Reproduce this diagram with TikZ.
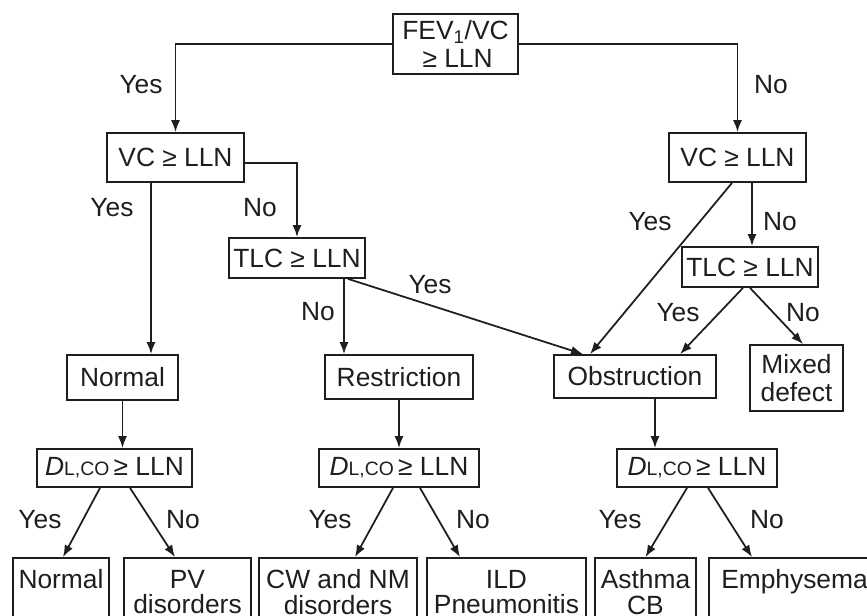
\documentclass[tikz,border=0pt]{standalone}
\usepackage{fontspec}
\setmainfont{Liberation Sans}
\usetikzlibrary{arrows.meta}
\definecolor{ink}{HTML}{1E1E1E}
\newcommand{\dlco}{\textit{D}{\fontsize{11}{11}\selectfont L,CO}}

\begin{document}
\begin{tikzpicture}[
		box/.style={draw=ink, line width=1pt, inner sep=0pt, align=center, text=ink},
		leaf/.style={box, minimum height=1.36cm, font=\fontsize{15}{14.5}\selectfont},
		lbl/.style={text=ink, inner sep=0pt},
		arr/.style={ink, line width=1pt, -{Latex[length=2.4mm,width=1.8mm]}},
		font=\fontsize{15}{15.5}\selectfont]
			\useasboundingbox (0,0) rectangle (17.34,-12.32);

			% first level
			\node[box, minimum width=2.5cm, minimum height=1.2cm] (top) at (9.11,-0.88) {FEV\textsubscript{1}/VC\\$\,$≥ LLN};
			\node[box, minimum width=2.74cm, minimum height=0.98cm] (vcL) at (3.51,-3.15) {VC ≥ LLN};
			\node[box, minimum width=2.74cm, minimum height=0.98cm] (vcR) at (14.75,-3.15) {VC ≥ LLN};
			\node[box, minimum width=2.72cm, minimum height=0.8cm] (tlcL) at (5.94,-5.16) {TLC ≥ LLN};
			\node[box, minimum width=2.72cm, minimum height=0.8cm] (tlcR) at (15.0,-5.34) {TLC ≥ LLN};

			% patterns
			\node[box, minimum width=2.22cm, minimum height=0.9cm] (normal) at (2.45,-7.55) {Normal};
			\node[box, minimum width=2.96cm, minimum height=0.88cm] (restr) at (7.98,-7.54) {Restriction};
			\node[box, minimum width=3.24cm, minimum height=0.86cm] (obstr) at (12.7,-7.53) {Obstruction};
			\node[box, minimum width=1.86cm, minimum height=1.32cm] (mixed) at (15.93,-7.56) {Mixed\\defect};

			% diffusing capacity
			\node[box, minimum width=3.1cm, minimum height=0.76cm] (dL) at (2.29,-9.36) {\dlco\,≥ LLN};
			\node[box, minimum width=3.2cm, minimum height=0.76cm] (dM) at (7.98,-9.36) {\dlco\,≥ LLN};
			\node[box, minimum width=3.2cm, minimum height=0.76cm] (dR) at (13.94,-9.36) {\dlco\,≥ LLN};

			% diagnoses
			\node[leaf, minimum width=1.92cm] (bN) at (1.22,-11.84) {Normal\\\mbox{}};
			\node[leaf, minimum width=2.54cm] (bPV) at (3.75,-11.84) {PV\\disorders};
			\node[leaf, minimum width=3.16cm] (bCW) at (6.76,-11.84) {CW and NM\\disorders};
			\node[leaf, minimum width=3.18cm] (bILD) at (10.13,-11.84) {ILD\\Pneumonitis};
			\node[leaf, minimum width=2.02cm] (bAs) at (12.91,-11.84) {Asthma\\CB};
			\node[leaf, minimum width=3.42cm] (bEm) at (15.89,-11.84) {Emphysema\\\mbox{}};

			\draw[arr] (top.west) -| (vcL.north);
			\draw[arr] (top.east) -| (vcR.north);
			\draw[arr] ([yshift=-0.11cm]vcL.east) -| (tlcL.north);
			\draw[arr] ([xshift=-0.49cm]vcL.south) -- ([xshift=-0.49cm]vcL.south |- normal.north);
			\draw[arr] ([xshift=0.94cm]tlcL.south) -- ([xshift=0.94cm]tlcL.south |- restr.north);
			\draw[arr] ([xshift=1.02cm]tlcL.south) -- ([xshift=-1.04cm]obstr.north);
			\draw[arr] ([xshift=-0.11cm]vcR.south) -- ([xshift=-0.9cm]obstr.north);
			\draw[arr] ([xshift=0.29cm]vcR.south) -- ([xshift=0.29cm]vcR.south |- tlcR.north);
			\draw[arr] ([xshift=-0.14cm]tlcR.south) -- ([xshift=0.9cm]obstr.north);
			\draw[arr] (tlcR.south) -- ([xshift=0.13cm]mixed.north);

			\draw[arr] (normal.south) -- (normal.south |- dL.north);
			\draw[arr] (restr.south) -- (restr.south |- dM.north);
			\draw[arr] ([xshift=0.4cm]obstr.south) -- ([xshift=0.4cm]obstr.south |- dR.north);

			\draw[arr] ([xshift=-0.29cm]dL.south) -- ([xshift=0.04cm]bN.north);
			\draw[arr] ([xshift=0.31cm]dL.south) -- ([xshift=-0.25cm]bPV.north);
			\draw[arr] ([xshift=-0.12cm]dM.south) -- ([xshift=0.34cm]bCW.north);
			\draw[arr] ([xshift=0.42cm]dM.south) -- ([xshift=-0.93cm]bILD.north);
			\draw[arr] ([xshift=-0.2cm]dR.south) -- (bAs.north);
			\draw[arr] ([xshift=0.22cm]dR.south) -- ([xshift=-0.85cm]bEm.north);

			\node[lbl] (y1) at (2.82,-1.7) {Yes};
			\node[lbl] (n1) at (15.42,-1.7) {No};
			\node[lbl] (y2) at (2.24,-4.16) {Yes};
			\node[lbl] (n2) at (5.2,-4.16) {No};
			\node[lbl] (y3) at (13.0,-4.44) {Yes};
			\node[lbl] (n3) at (15.6,-4.44) {No};
			\node[lbl] (y4) at (8.6,-5.7) {Yes};
			\node[lbl] (n4) at (6.36,-6.24) {No};
			\node[lbl] (y5) at (13.56,-6.26) {Yes};
			\node[lbl] (n5) at (16.06,-6.26) {No};
			\node[lbl] (y6) at (0.8,-10.4) {Yes};
			\node[lbl] (n6) at (3.66,-10.4) {No};
			\node[lbl] (y7) at (6.6,-10.4) {Yes};
			\node[lbl] (n7) at (9.46,-10.4) {No};
			\node[lbl] (y8) at (12.4,-10.4) {Yes};
			\node[lbl] (n8) at (15.34,-10.4) {No};
		\end{tikzpicture}
\end{document}
